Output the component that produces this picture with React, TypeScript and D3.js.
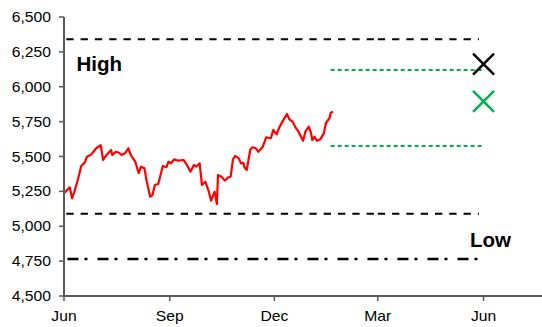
import React from "react";
import * as d3 from "d3";

const priceDates = [
  "2016-06-01","2016-06-06","2016-06-08","2016-06-10","2016-06-13","2016-06-16","2016-06-19","2016-06-21","2016-06-24","2016-06-26",
  "2016-06-29","2016-07-03","2016-07-05","2016-07-08","2016-07-12","2016-07-13","2016-07-16","2016-07-19","2016-07-21","2016-07-24",
  "2016-07-27","2016-07-29","2016-08-02","2016-08-05","2016-08-07","2016-08-10","2016-08-12","2016-08-15","2016-08-17","2016-08-19",
  "2016-08-22","2016-08-26","2016-08-29","2016-08-31","2016-09-02","2016-09-05","2016-09-08","2016-09-13","2016-09-16","2016-09-19",
  "2016-09-22","2016-09-24","2016-09-27","2016-09-29","2016-10-02","2016-10-05","2016-10-07","2016-10-10","2016-10-12","2016-10-13",
  "2016-10-16","2016-10-19","2016-10-22","2016-10-24","2016-10-26","2016-10-28","2016-10-31","2016-11-02","2016-11-04","2016-11-05",
  "2016-11-07","2016-11-10","2016-11-12","2016-11-15","2016-11-17","2016-11-21","2016-11-24","2016-11-28","2016-11-30","2016-12-03",
  "2016-12-05","2016-12-08","2016-12-12","2016-12-14","2016-12-17","2016-12-19","2016-12-22","2016-12-26","2016-12-28","2016-12-31",
  "2017-01-02","2017-01-03","2017-01-05","2017-01-07","2017-01-10","2017-01-13","2017-01-15","2017-01-18","2017-01-19","2017-01-21"
];
const priceValues = [
  5236,5279,5200,5248,5332,5432,5456,5499,5511,5527,
  5559,5582,5475,5511,5547,5511,5534,5527,5511,5523,
  5559,5511,5463,5380,5427,5415,5319,5212,5224,5296,
  5303,5432,5423,5463,5451,5480,5470,5475,5439,5391,
  5439,5427,5451,5296,5319,5248,5183,5248,5160,5367,
  5355,5327,5351,5355,5480,5504,5487,5451,5455,5423,
  5403,5547,5566,5559,5534,5570,5638,5631,5690,5659,
  5702,5750,5805,5767,5750,5714,5678,5613,5678,5714,
  5666,5618,5642,5613,5623,5666,5742,5774,5814,5821
];

// Horizontal reference levels
const highLevel = 6340;
const lowLevel = 5090;
const stopLevel = 4765;
const targetLevels = [6120, 5575];
const bandSegments = [["2016-06-03", "2017-03-01"], ["2017-03-01", "2017-05-28"]];
const stopRange = ["2016-06-04", "2017-06-02"];
const targetRange = ["2017-01-19", "2017-06-01"];
const markerDate = "2017-06-01";
const markerBlackValue = 6162;
const markerGreenValue = 5895;

const xDomain = ["2016-06-01", "2017-07-21"];
const xTickDates = ["2016-06-01", "2016-09-01", "2016-12-01", "2017-03-01", "2017-06-01"];
const yTicks = [4500, 4750, 5000, 5250, 5500, 5750, 6000, 6250, 6500];

const parse = d3.timeParse("%Y-%m-%d");

export default function App() {
  const x = d3.scaleTime().domain(xDomain.map((d) => parse(d)!)).range([64, 541]);
  const y = d3.scaleLinear().domain([4500, 6500]).range([296, 17]);
  const line = d3
    .line<[Date, number]>()
    .x((d) => x(d[0]))
    .y((d) => y(d[1]));
  const pricePts: [Date, number][] = priceDates.map((d, i) => [parse(d)!, priceValues[i]]);
  const fmtY = d3.format(",");
  const fmtX = d3.timeFormat("%b");
  const font = "'Liberation Sans', Arial, sans-serif";
  const axisColor = "#595959";

  const hSeg = (seg: string[], v: number) =>
    line([
      [parse(seg[0])!, v],
      [parse(seg[1])!, v],
    ]) || "";

  const mx = x(parse(markerDate)!);
  const cross = (cx: number, cy: number, r: number) =>
    `M${cx - r},${cy - r}L${cx + r},${cy + r}M${cx - r},${cy + r}L${cx + r},${cy - r}`;

  return (
    <svg
      width={542}
      height={327}
      style={{ position: "fixed", left: 0, top: 0, background: "#fff" }}
      fontFamily={font}
    >
      <rect width={542} height={327} fill="#fff" />
      {bandSegments.map((s, i) => (
        <g key={"b" + i}>
          <path d={hSeg(s, highLevel)} stroke="#000" strokeWidth={2} strokeDasharray="7.3,7" fill="none" />
          <path d={hSeg(s, lowLevel)} stroke="#000" strokeWidth={2} strokeDasharray="7.3,7" fill="none" />
        </g>
      ))}
      <path d={hSeg(stopRange, stopLevel)} stroke="#000" strokeWidth={2.5} strokeDasharray="11,6,3,10" fill="none" />
      {targetLevels.map((v, i) => (
        <path key={"t" + i} d={hSeg(targetRange, v)} stroke="#00B050" strokeWidth={2} strokeDasharray="4,3" fill="none" />
      ))}
      <path d={line(pricePts) || ""} stroke="#FF0000" strokeWidth={2.2} fill="none" strokeLinejoin="round" />
      <path d={cross(mx, y(markerBlackValue), 10.5)} stroke="#000" strokeWidth={2.5} fill="none" />
      <path d={cross(mx, y(markerGreenValue), 10.5)} stroke="#00B050" strokeWidth={2.5} fill="none" />
      <line x1={64} x2={64} y1={y(6500)} y2={y(4500)} stroke={axisColor} strokeWidth={2} />
      <line x1={63} x2={542} y1={y(4500)} y2={y(4500)} stroke={axisColor} strokeWidth={2} />
      {yTicks.map((t) => (
        <g key={t}>
          <line x1={59} x2={64} y1={y(t)} y2={y(t)} stroke={axisColor} strokeWidth={1.5} />
          <text
            transform={`translate(51,${y(t) + 5}) scale(1.12,1)`}
            textAnchor="end"
            fontSize={14}
            fill="#000"
          >
            {fmtY(t)}
          </text>
        </g>
      ))}
      {xTickDates.map((d) => {
        const xx = x(parse(d)!);
        return (
          <g key={d}>
            <line x1={xx} x2={xx} y1={296} y2={301} stroke={axisColor} strokeWidth={1.5} />
            <text transform={`translate(${xx},321) scale(1.12,1)`} textAnchor="middle" fontSize={14} fill="#000">
              {fmtX(parse(d)!)}
            </text>
          </g>
        );
      })}
      <text x={76.5} y={71} fontSize={20.5} fontWeight="bold" fill="#000">High</text>
      <text x={470} y={247} fontSize={20.5} fontWeight="bold" fill="#000">Low</text>
    </svg>
  );
}
